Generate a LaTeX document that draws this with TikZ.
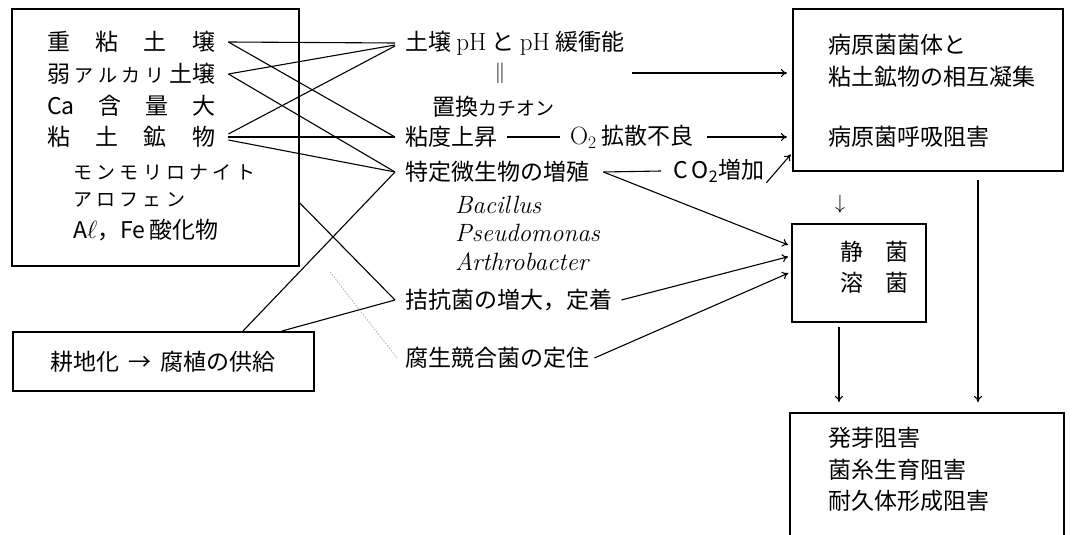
\documentclass[tikz,border=0pt]{standalone}
\usepackage{fontspec}
\newfontfamily\jp{Noto Sans CJK JP}
\usetikzlibrary{arrows.meta}
\begin{document}
\begin{tikzpicture}[x=1pt,y=-1pt,
  every node/.style={font=\jp\fontsize{23}{27}\selectfont, inner sep=0pt},
  lt/.style={anchor=west},
  boxline/.style={draw, line width=1.8pt, anchor=north west},
  conn/.style={line width=1.1pt},
  arr/.style={line width=1.1pt,-{To[length=6pt,width=8pt]}},
  kana/.style={font=\jp\fontsize{19}{23}\selectfont},
  lat/.style={font=\rmfamily\itshape\fontsize{25}{29}\selectfont},
  faint/.style={gray!70, line width=0.7pt, dash pattern=on 1.5pt off 1.5pt}]
\useasboundingbox (0,0) rectangle (1090,535);
\clip (0,0) rectangle (1090,535);
\fill[white] (0,0) rectangle (1090,535);

% left box
\node[boxline, minimum width=287pt, minimum height=257pt] (L) at (11,8) {};
\node[lt] (a1) at (47,42) {\makebox[168pt][s]{重\hfill 粘\hfill 土\hfill 壌}};
\node[lt] (a2) at (47,74) {\makebox[168pt][s]{弱\hfill{\fontsize{19}{23}\selectfont ア\hfill ル\hfill カ\hfill リ}\hfill 土壌}};
\node[lt] (a3) at (47,106) {\makebox[168pt][s]{Ca\hfill 含\hfill 量\hfill 大}};
\node[lt] (a4) at (47,137) {\makebox[168pt][s]{粘\hfill 土\hfill 鉱\hfill 物}};
\node[lt,kana] (a5) at (73,172) {\makebox[182pt][s]{モ\hfill ン\hfill モ\hfill リ\hfill ロ\hfill ナ\hfill イ\hfill ト}};
\node[lt,kana] (a6) at (73,200) {\makebox[112pt][s]{ア\hfill ロ\hfill フ\hfill ェ\hfill ン}};
\node[lt] (a7) at (73,230) {A{\rmfamily$\ell$}，Fe\,酸化物};

% bottom-left box
\node[boxline, minimum width=301pt, minimum height=59pt] (K) at (12,331) {};
\node (kt) at (K.center) {耕地化\hspace{9pt}→\hspace{9pt}腐植の供給};

% middle column
\node[lt] (m1) at (405,43) {土壌 {\rmfamily\fontsize{25}{29}\selectfont pH} と {\rmfamily\fontsize{25}{29}\selectfont pH} 緩衝能};
\node (eq) at (500,73) {\rmfamily\fontsize{22}{26}\selectfont$\|$};
\node[lt] (m2) at (432,107) {置換{\fontsize{19}{23}\selectfont カチオン}};
\node[lt] (m3) at (405,137) {粘度上昇};
\node[lt] (o2) at (570,137) {{\rmfamily\fontsize{25}{29}\selectfont O\textsubscript{2}} 拡散不良};
\node[lt] (m4) at (405,172) {特定微生物の増殖};
\node[lt] (co) at (673,171) {C\,O\textsubscript{2}増加};
\node[lt,lat] (b1) at (455,205) {Bacillus};
\node[lt,lat] (b2) at (455,233) {Pseudomonas};
\node[lt,lat] (b3) at (455,262) {Arthrobacter};
\node[lt] (m5) at (405,300) {拮抗菌の増大，定着};
\node[lt] (m6) at (405,358) {腐生競合菌の定住};

% right boxes
\node[boxline, minimum width=270pt, minimum height=162pt] (P) at (792,8) {};
\node[lt] (p1) at (828,45) {病原菌菌体と};
\node[lt] (p2) at (828,77) {粘土鉱物の相互凝集};
\node[lt] (p3) at (828,137) {病原菌呼吸阻害};
\node[boxline, minimum width=134pt, minimum height=98pt] (S) at (791,223) {};
\node[lt] (s1) at (840,252) {静\hspace{22pt}菌};
\node[lt] (s2) at (840,283) {溶\hspace{22pt}菌};
\node[boxline, minimum width=274pt, minimum height=160pt] (B) at (789,412) {};
\node[lt] (q1) at (828,438) {発芽阻害};
\node[lt] (q2) at (828,470) {菌糸生育阻害};
\node[lt] (q3) at (828,501) {耐久体形成阻害};
\node (dn) at (840,204) {\rmfamily\fontsize{20}{24}\selectfont$\downarrow$};

% left connectors
\draw[conn] ([xshift=13pt]a1.east) -- ([xshift=-10pt]m1.west);
\draw[conn] ([xshift=13pt]a1.east) -- ([xshift=-10pt]m3.west);
\draw[conn] ([xshift=13pt]a2.east) -- ([xshift=-10pt,yshift=-2pt]m1.west);
\draw[conn] ([xshift=13pt]a2.east) -- ([xshift=-10pt]m4.west);
\draw[conn] ([xshift=13pt,yshift=3pt]a4.east) -- ([xshift=-10pt,yshift=-3pt]m1.west);
\draw[conn] ([xshift=13pt]a4.east) -- ([xshift=-10pt]m3.west);
\draw[conn] ([xshift=13pt,yshift=-3pt]a4.east) -- ([xshift=-10pt]m4.west);
\draw[conn] (L.east |- 0,203) -- ([xshift=-10pt]m5.west);
\draw[conn] (K.north -| 243,0) -- ([xshift=-10pt]m4.west);
\draw[conn] (K.north -| 282,0) -- ([xshift=-10pt]m5.west);
\coordinate (fs) at (330,272);
\draw[faint] (fs) -- ([xshift=-8pt]m6.west);

% middle connectors
\coordinate (r1) at (632,73);
\draw[arr, shorten >=5pt] (r1) -- (P.west |- r1);
\draw[conn] ([xshift=10pt]m3.east) -- ([xshift=-10pt]o2.west);
\draw[arr, shorten >=5pt] ([xshift=13pt]o2.east) -- (P.west |- o2);
\draw[arr, shorten >=2pt] ([xshift=2pt]co.south east) -- (P.west |- 0,153);
\coordinate (v) at ([xshift=14pt]m4.east);
\draw[conn] (v) -- ([xshift=-12pt]co.west);
\draw[arr, shorten >=3pt] (v) -- (S.west |- 0,246);
\draw[arr, shorten >=3pt] ([xshift=9pt]m5.east) -- (S.west |- 0,256);
\draw[arr, shorten >=3pt] ([xshift=5pt]m6.east) -- (S.west |- 0,272);

% vertical arrows
\draw[arr, shorten <=4pt, shorten >=10pt] (S.south -| 839,0) -- (B.north -| 839,0);
\draw[arr, shorten <=8pt, shorten >=10pt] (P.south -| 978,0) -- (B.north -| 978,0);
\end{tikzpicture}
\end{document}
